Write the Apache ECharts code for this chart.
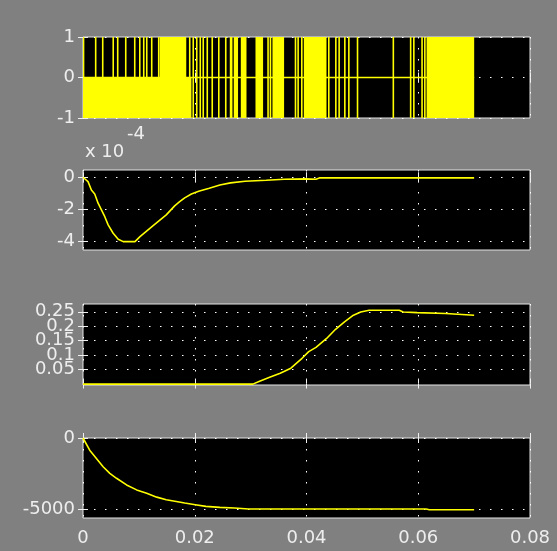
<!DOCTYPE html>
<html><head><meta charset="utf-8">
<script src="https://cdn.jsdelivr.net/npm/echarts@6/dist/echarts.min.js"></script>
<style>html,body{margin:0;padding:0;background:#808080;}#c{width:557px;height:551px;}</style>
</head><body><div id="c"></div>
<script>
// ---- shared time axis ----
const xTickLabels = [0, 0.02, 0.04, 0.06, 0.08];

// ---- plot 1: switching signal (levels -1, 0, 1) ----
const p1YTicks = [-1, 0, 1];
const p1ZeroLevelSpan = [0, 0.07];               // signal rests at 0 over the whole run
const p1UpperSpikes = [0.0001, 0.00227, 0.00353, 0.00541, 0.00621, 0.00765, 0.00926, 0.01016, 0.01087, 0.01141, 0.0123, 0.01355];
const p1UpperBands = [[0.01373, 0.01848]];       // fast switching 0..1
const p1LowerBands = [[0, 0.01941]];             // fast switching -1..0
const p1FullSpikes = [0.0191, 0.01973, 0.02036, 0.02099, 0.02152, 0.02224, 0.02313, 0.0243, 0.02555,
  0.03312, 0.03355, 0.03803, 0.0385, 0.03916, 0.04399, 0.04525, 0.04584, 0.04686, 0.04758, 0.04913,
  0.05554, 0.05864, 0.05921, 0.06068, 0.06118];
const p1FullBands = [[0.02627, 0.02675], [0.02698, 0.02775], [0.02824, 0.02926], [0.03087, 0.03223],
  [0.03391, 0.03599], [0.03952, 0.04358], [0.06149, 0.07001]];

// ---- plot 2 (values in units of 1e-4) ----
const p2Exponent = -4;
const p2YTicks = [-4, -2, 0];
const p2T = [0, 0.0009, 0.0015, 0.0021, 0.0027, 0.0033, 0.0039, 0.0045, 0.0054, 0.0063, 0.0072, 0.0093, 0.0102,
  0.0125, 0.0149, 0.0164, 0.0173, 0.0182, 0.0194, 0.0207, 0.0226, 0.0245, 0.0264, 0.029, 0.0328, 0.036,
  0.0398, 0.0417, 0.0423, 0.07];
const p2V = [0, -0.27, -0.79, -1.04, -1.61, -2.03, -2.45, -2.96, -3.48, -3.85, -4.0, -4.0, -3.69,
  -3.02, -2.34, -1.78, -1.52, -1.28, -1.04, -0.87, -0.68, -0.48, -0.35, -0.25, -0.19, -0.12,
  -0.10, -0.12, -0.04, -0.04];

// ---- plot 3 ----
const p3YTicks = [0.05, 0.1, 0.15, 0.2, 0.25];
const p3T = [0, 0.0304, 0.0315, 0.0334, 0.0353, 0.0372, 0.0392, 0.0404, 0.0417, 0.0436, 0.0452, 0.0468,
  0.0484, 0.0497, 0.0512, 0.0566, 0.0573, 0.0598, 0.0601, 0.0649, 0.0652, 0.07];
const p3V = [-0.002, -0.002, 0.0073, 0.0223, 0.0361, 0.0535, 0.088, 0.111, 0.126, 0.157, 0.189, 0.215,
  0.238, 0.249, 0.255, 0.255, 0.249, 0.247, 0.244, 0.244, 0.238, 0.238];

// ---- plot 4 ----
const p4YTicks = [-5000, 0];
const p4T = [0, 0.0003, 0.0012, 0.0024, 0.0036, 0.0048, 0.006, 0.0078, 0.0096, 0.0114, 0.0132, 0.0149,
  0.0167, 0.0182, 0.0201, 0.022, 0.0245, 0.0271, 0.029, 0.0296, 0.0614, 0.062, 0.07];
const p4V = [0, -112, -858, -1438, -2025, -2486, -2835, -3303, -3652, -3883, -4162, -4350,
  -4469, -4577, -4695, -4812, -4883, -4930, -4977, -5000, -5000, -5050, -5050];

// ================= build chart =================
const YEL = '#ffff00';
const LABEL = '#eeeeee';
const FONT = 'DejaVu Sans';
const gridPos = [
  {top: 37, height: 81}, {top: 170, height: 80}, {top: 304, height: 81}, {top: 438, height: 80}
];
const yRanges = [
  {min: -1, max: 1, ticks: p1YTicks},
  {min: -4.52, max: 0.45, ticks: p2YTicks},
  {min: -0.005, max: 0.277, ticks: p3YTicks},
  {min: -5630, max: 0, ticks: p4YTicks}
];
const split = {show: true, lineStyle: {color: '#ffffff', width: 1, type: [1.5, 9.5]}};
const tick = {show: true, inside: true, length: 5, lineStyle: {color: '#f0f0f0', width: 1}};

const grid = gridPos.map(g => ({left: 83, width: 447, top: g.top, height: g.height,
  show: true, backgroundColor: '#000000', borderColor: '#e4e4e4', borderWidth: 1}));

const xAxis = [], yAxis = [];
for (let i = 0; i < 4; i++) {
  xAxis.push({type: 'value', gridIndex: i, min: xTickLabels[0], max: xTickLabels[xTickLabels.length - 1],
    interval: xTickLabels[1] - xTickLabels[0], position: 'bottom',
    axisLine: {show: false}, axisTick: tick, splitLine: split,
    axisLabel: {show: i === 3, color: LABEL, fontFamily: FONT, fontSize: 18, margin: 11,
      formatter: v => String(+v.toFixed(2))}});
}
for (let i = 0; i < 4; i++) {
  xAxis.push({type: 'value', gridIndex: i, min: xTickLabels[0], max: xTickLabels[xTickLabels.length - 1],
    interval: xTickLabels[1] - xTickLabels[0], position: 'top',
    axisLine: {show: false}, axisTick: tick, splitLine: {show: false}, axisLabel: {show: false}});
}
// main left axes (ticks, grid lines, even-indexed labels)
for (let i = 0; i < 4; i++) {
  const r = yRanges[i];
  yAxis.push({type: 'value', gridIndex: i, min: r.min, max: r.max, position: 'left',
    axisLine: {show: false},
    axisTick: Object.assign({customValues: r.ticks}, tick),
    splitLine: split,
    axisLabel: {show: true, customValues: r.ticks.filter((v, k) => k % 2 === 0), color: LABEL,
      fontFamily: FONT, fontSize: 18, margin: 8, hideOverlap: false, formatter: v => String(v)}});
}
// right axes (ticks only)
for (let i = 0; i < 4; i++) {
  const r = yRanges[i];
  yAxis.push({type: 'value', gridIndex: i, min: r.min, max: r.max, position: 'right',
    axisLine: {show: false}, axisTick: Object.assign({customValues: r.ticks}, tick),
    splitLine: {show: false}, axisLabel: {show: false, customValues: r.ticks}});
}
// extra left axes carrying the odd-indexed labels (so overlapping labels all stay visible)
for (let i = 0; i < 4; i++) {
  const r = yRanges[i];
  const odd = r.ticks.filter((v, k) => k % 2 === 1);
  yAxis.push({type: 'value', gridIndex: i, min: r.min, max: r.max, position: 'left', offset: 0,
    axisLine: {show: false}, axisTick: {show: false}, splitLine: {show: false},
    axisLabel: {show: odd.length > 0, customValues: odd.length ? odd : r.ticks, color: LABEL,
      fontFamily: FONT, fontSize: 18, margin: 8, hideOverlap: false, formatter: v => String(v)}});
}

// plot 1 rectangles: [t0, t1, yLow, yHigh]
const p1Rects = [];
p1UpperSpikes.forEach(t => p1Rects.push([t, t, 0, 1]));
p1UpperBands.forEach(b => p1Rects.push([b[0], b[1], 0, 1]));
p1LowerBands.forEach(b => p1Rects.push([b[0], b[1], -1, 0]));
p1FullSpikes.forEach(t => p1Rects.push([t, t, -1, 1]));
p1FullBands.forEach(b => p1Rects.push([b[0], b[1], -1, 1]));

const zip = (a, b) => a.map((t, k) => [t, b[k]]);
const lineSeries = (i, data) => ({type: 'line', xAxisIndex: i, yAxisIndex: i, data, symbol: 'none',
  showSymbol: false, animation: false, lineStyle: {color: YEL, width: 1.6}, silent: true});

const series = [
  lineSeries(0, [[p1ZeroLevelSpan[0], 0], [p1ZeroLevelSpan[1], 0]]),
  {type: 'custom', xAxisIndex: 0, yAxisIndex: 0, data: p1Rects, animation: false, silent: true,
    encode: {x: [0, 1], y: [2, 3]}, clip: true,
    renderItem: (params, api) => {
      const a = api.coord([api.value(0), api.value(3)]);
      const b = api.coord([api.value(1), api.value(2)]);
      let w = b[0] - a[0];
      let x = a[0];
      if (w < 1.6) { x = a[0] - 0.8; w = 1.6; }
      return {type: 'rect', shape: {x: x, y: a[1], width: w, height: b[1] - a[1]}, style: {fill: YEL}};
    }},
  lineSeries(1, zip(p2T, p2V)),
  lineSeries(2, zip(p3T, p3V)),
  lineSeries(3, zip(p4T, p4V))
];

const chart = echarts.init(document.getElementById('c'), null, {renderer: 'canvas'});
chart.setOption({
  backgroundColor: '#808080',
  animation: false,
  grid, xAxis, yAxis, series,
  graphic: [
    {type: 'text', left: 85, top: 143, style: {text: 'x 10', fill: LABEL, font: '18px "DejaVu Sans"'}},
    {type: 'text', left: 127, top: 125, style: {text: String(p2Exponent), fill: LABEL, font: '18px "DejaVu Sans"'}}
  ]
});
</script></body></html>
